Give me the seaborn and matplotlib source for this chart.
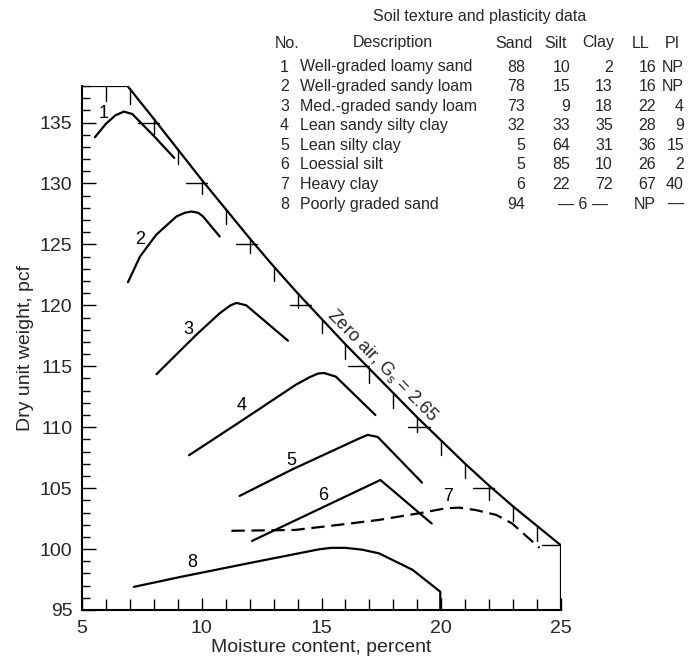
import numpy as np
import pandas as pd
import matplotlib
matplotlib.use("Agg")
import matplotlib.pyplot as plt
import matplotlib.transforms as mtransforms
from matplotlib.ticker import MultipleLocator
import seaborn as sns

# ---------------- data ----------------
# zero-air-voids line (outline of the chart, incl. top segment and right drop)
zav_x = [5.0, 6.9, 8.0, 9.0, 10.0, 11.0, 12.0, 13.0, 14.0, 15.0, 16.0, 17.0,
         18.0, 19.0, 20.0, 21.0, 22.0, 23.0, 24.0, 25.0, 25.0]
zav_y = [138.0, 138.0, 135.3, 132.8, 130.3, 127.9, 125.5, 123.2, 121.0, 118.9,
         116.8, 114.8, 112.8, 110.8, 108.9, 107.0, 105.2, 103.5, 101.9, 100.3, 95.0]

# small grid marks drawn along the zero-air line
zav_vtick_x = [6, 7, 8, 9, 10, 11, 12, 13, 14, 15, 16, 17, 18, 19, 20, 21, 22, 23, 24]
zav_htick_y = [135, 130, 125, 120, 115, 110, 105, 100.3]

# compaction curves (moisture %, dry unit weight pcf)
c1_x = [5.54, 6.0, 6.4, 6.75, 7.1, 8.0, 8.85]
c1_y = [133.8, 134.9, 135.6, 135.9, 135.7, 133.9, 132.1]
c2_x = [6.92, 7.42, 8.1, 8.95, 9.3, 9.57, 9.85, 10.05, 10.75]
c2_y = [121.9, 124.0, 125.8, 127.3, 127.6, 127.7, 127.6, 127.3, 125.65]
c3_x = [8.11, 9.78, 10.75, 11.2, 11.45, 11.86, 13.6]
c3_y = [114.35, 117.6, 119.35, 120.0, 120.2, 120.0, 117.1]
c4_x = [9.47, 11.72, 13.94, 14.5, 14.85, 15.1, 15.6, 17.25]
c4_y = [107.7, 110.6, 113.5, 114.1, 114.4, 114.45, 114.15, 111.0]
c5_x = [11.58, 13.74, 16.6, 16.93, 17.35, 19.2]
c5_y = [104.36, 106.5, 109.1, 109.37, 109.2, 105.45]
c6_x = [12.1, 17.46, 19.6]
c6_y = [100.67, 105.67, 102.1]
c7_x = [11.24, 13.9, 16.03, 17.42, 19.08, 20.2, 20.75, 21.45, 22.3, 22.96, 24.1]
c7_y = [101.5, 101.57, 102.06, 102.4, 102.94, 103.35, 103.4, 103.2, 102.8, 102.1, 100.1]
c8_x = [7.17, 9.08, 11.86, 14.9, 15.4, 16.0, 16.7, 17.4, 18.8, 19.96, 19.96]
c8_y = [96.9, 97.7, 98.8, 99.98, 100.1, 100.1, 99.95, 99.65, 98.3, 96.5, 95.0]

curve_ids = ["1", "2", "3", "4", "5", "6", "7", "8"]
curves_x = [c1_x, c2_x, c3_x, c4_x, c5_x, c6_x, c7_x, c8_x]
curves_y = [c1_y, c2_y, c3_y, c4_y, c5_y, c6_y, c7_y, c8_y]
curve_label_at = [(5.89, 135.76), (7.42, 125.4), (9.42, 118.0), (11.65, 111.8),
                  (13.74, 107.3), (15.05, 104.4), (20.3, 104.3), (9.6, 98.9)]

# table
table_title = "Soil texture and plasticity data"
table_header = ["No.", "Description", "Sand", "Silt", "Clay", "LL", "PI"]
table_no = ["1", "2", "3", "4", "5", "6", "7", "8"]
table_desc = ["Well-graded loamy sand", "Well-graded sandy loam", "Med.-graded sandy loam",
              "Lean sandy silty clay", "Lean silty clay", "Loessial silt", "Heavy clay",
              "Poorly graded sand"]
table_sand = ["88", "78", "73", "32", "5", "5", "6", "94"]
table_silt = ["10", "15", "9", "33", "64", "85", "22", None]
table_clay = ["2", "13", "18", "35", "31", "10", "72", None]
table_silt_clay_joint = "\u2014 6 \u2014"
table_ll = ["16", "16", "22", "28", "36", "26", "67", "NP"]
table_pi = ["NP", "NP", "4", "9", "15", "2", "40", "\u2014"]

xlabel = "Moisture content, percent"
ylabel = "Dry unit weight, pcf"
zav_label = r"Zero air, G$_\mathregular{s}$ = 2.65"

# ---------------- plotting ----------------
sns.set_style("ticks")
plt.rcParams["font.family"] = ["Liberation Sans", "DejaVu Sans"]
plt.rcParams["mathtext.default"] = "regular"

W, H = 692, 659
fig = plt.figure(figsize=(W / 100, H / 100), dpi=100)
ax = fig.add_axes([82 / W, 1 - 610 / H, (561 - 82) / W, (610 - 86) / H])

LW = 1.6
black = "black"

# zero-air line / outline
sns.lineplot(x=zav_x, y=zav_y, sort=False, estimator=None, color=black, lw=LW, ax=ax)

# marks hanging from the zero-air line
line_x = np.array(zav_x[:-1])
line_y = np.array(zav_y[:-1])
for xv in zav_vtick_x:
    ytop = np.interp(xv, line_x, line_y)
    ax.plot([xv, xv], [ytop, ytop - 1.2], color=black, lw=1.0)
for yv in zav_htick_y:
    xl = np.interp(yv, line_y[::-1], line_x[::-1])
    ax.plot([xl - 0.8, min(xl + 0.1, 25)], [yv, yv], color=black, lw=1.0)

# compaction curves
for cid, xs, ys in zip(curve_ids, curves_x, curves_y):
    ls = (0, (6, 3)) if cid == "7" else "-"
    sns.lineplot(x=xs, y=ys, sort=False, estimator=None, color=black, lw=LW,
                 linestyle=ls, ax=ax)

for cid, (lx, ly) in zip(curve_ids, curve_label_at):
    ax.text(lx, ly, cid, fontsize=13, ha="center", va="center", color=black)

ax.set_xlim(5, 25)
ax.set_ylim(95, 138)
ax.xaxis.set_major_locator(MultipleLocator(5))
ax.xaxis.set_minor_locator(MultipleLocator(1))
ax.yaxis.set_major_locator(MultipleLocator(5))
ax.yaxis.set_minor_locator(MultipleLocator(1))
ax.tick_params(axis="both", which="both", direction="in", color=black, width=1.0)
ax.tick_params(axis="both", which="major", labelsize=14, pad=7)
ax.tick_params(axis="y", which="major", length=10)
ax.tick_params(axis="y", which="minor", length=6)
ax.tick_params(axis="x", which="major", length=9)
ax.tick_params(axis="x", which="minor", length=8)
sns.despine(ax=ax, top=True, right=True)
for s in ("left", "bottom"):
    ax.spines[s].set_linewidth(1.5)
    ax.spines[s].set_color(black)

ax.set_xlabel(xlabel, fontsize=14, labelpad=2)
ax.set_ylabel(ylabel, fontsize=14, labelpad=4)

# zero-air label along the line
xa = 17.2
ya = np.interp(xa, line_x, line_y)
p1 = ax.transData.transform((15.0, np.interp(15.0, line_x, line_y)))
p2 = ax.transData.transform((20.0, np.interp(20.0, line_x, line_y)))
ang = np.degrees(np.arctan2(p2[1] - p1[1], p2[0] - p1[0]))
nrm = np.array([-np.sin(np.radians(ang)), np.cos(np.radians(ang))])
off = mtransforms.offset_copy(ax.transData, fig=fig, x=nrm[0] * 7, y=nrm[1] * 7, units="dots")
ax.text(xa, ya, zav_label, fontsize=13, rotation=ang, rotation_mode="anchor",
        ha="center", va="baseline", transform=off)

# table (figure pixel coordinates)
def fx(px):
    return px / W

def fy(py):
    return 1 - py / H

TFS = 11.5
fig.text(fx(480), fy(17), table_title, fontsize=TFS, ha="center", va="center")
hdr_x = [287, 393, 514, 556, 598, 641, 672]
for h, hx in zip(table_header, hdr_x):
    fig.text(fx(hx), fy(43), h, fontsize=TFS, ha="center", va="center")

for i in range(len(table_no)):
    ry = fy(67 + i * 19.6)
    fig.text(fx(289), ry, table_no[i], fontsize=TFS, ha="right", va="center")
    fig.text(fx(300), ry, table_desc[i], fontsize=TFS, ha="left", va="center")
    fig.text(fx(525), ry, table_sand[i], fontsize=TFS, ha="right", va="center")
    if table_silt[i] is not None:
        fig.text(fx(570), ry, table_silt[i], fontsize=TFS, ha="right", va="center")
        fig.text(fx(613), ry, table_clay[i], fontsize=TFS, ha="right", va="center")
    else:
        fig.text(fx(583), ry, table_silt_clay_joint, fontsize=TFS, ha="center", va="center")
    fig.text(fx(656), ry, table_ll[i], fontsize=TFS, ha="right", va="center")
    fig.text(fx(684), ry, table_pi[i], fontsize=TFS, ha="right", va="center")

fig.savefig("out.png", dpi=100, facecolor="white")
